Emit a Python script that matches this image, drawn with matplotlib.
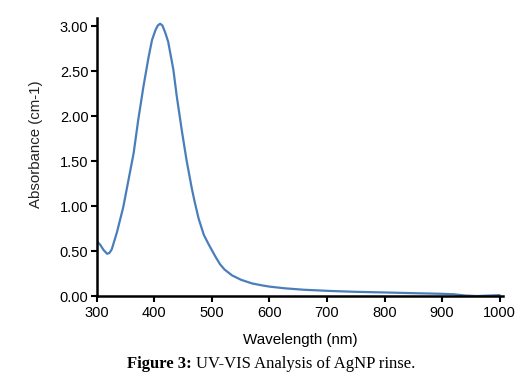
import matplotlib
matplotlib.use("Agg")
import matplotlib.pyplot as plt

wavelength = [300, 306, 312, 318, 322, 326, 335, 346, 355, 364, 372, 381, 390, 396,
              402, 406, 410, 414, 419, 424, 433, 439, 448, 456, 465, 470, 477, 486,
              494, 506, 514, 522, 535, 551, 570, 586, 600, 627, 660, 708, 750, 800,
              850, 900, 920, 940, 960, 980, 1000]
absorbance = [0.61, 0.57, 0.51, 0.47, 0.48, 0.52, 0.71, 0.99, 1.29, 1.59, 1.96, 2.33,
              2.66, 2.85, 2.96, 3.01, 3.03, 3.01, 2.93, 2.83, 2.52, 2.22, 1.83, 1.51,
              1.20, 1.05, 0.86, 0.68, 0.58, 0.44, 0.355, 0.295, 0.23, 0.18, 0.14, 0.12,
              0.105, 0.086, 0.07, 0.056, 0.047, 0.04, 0.032, 0.025, 0.02, 0.006, 0.0,
              0.005, 0.01]
xticks = [300, 400, 500, 600, 700, 800, 900, 1000]
yticks = [0.0, 0.5, 1.0, 1.5, 2.0, 2.5, 3.0]

plt.rcParams['font.family'] = ['Liberation Sans', 'DejaVu Sans']

fig = plt.figure(figsize=(5.29, 3.82), dpi=100)
ax = fig.add_axes([0.183, 0.225, 0.768, 0.727])
ax.plot(wavelength, absorbance, color='#4a7ebb', lw=1.6,
        solid_capstyle='round', solid_joinstyle='round')
ax.set_xlim(300, 1006)
ax.set_ylim(0, 3.09)
ax.set_xticks(xticks)
ax.set_yticks(yticks)
ax.set_yticklabels([f"{v:.2f}" for v in yticks])
ax.spines['top'].set_visible(False)
ax.spines['right'].set_visible(False)
for s in ('left', 'bottom'):
    ax.spines[s].set_linewidth(1.8)
ax.tick_params(axis='both', direction='out', length=4, width=1.5, labelsize=10.5)
ax.tick_params(axis='x', pad=3.5)
ax.tick_params(axis='y', pad=2)
ax.set_xlabel('Wavelength (nm)', fontsize=10.9)
ax.set_ylabel('Absorbance (cm-1)', fontsize=10.8, color='#222222')
ax.xaxis.set_label_coords(0.5, -0.133)
ax.yaxis.set_label_coords(-0.132, 0.547)

t1 = fig.text(0.240, 0.036, 'Figure 3:', family='Liberation Serif',
              fontweight='bold', fontsize=12, ha='left', va='baseline')
fig.canvas.draw()
bb = t1.get_window_extent()
x2 = (bb.x1 + 4) / fig.bbox.width
fig.text(x2, 0.036, 'UV-VIS Analysis of AgNP rinse.', family='Liberation Serif',
         fontsize=12, ha='left', va='baseline')

fig.savefig('out.png', dpi=100)
